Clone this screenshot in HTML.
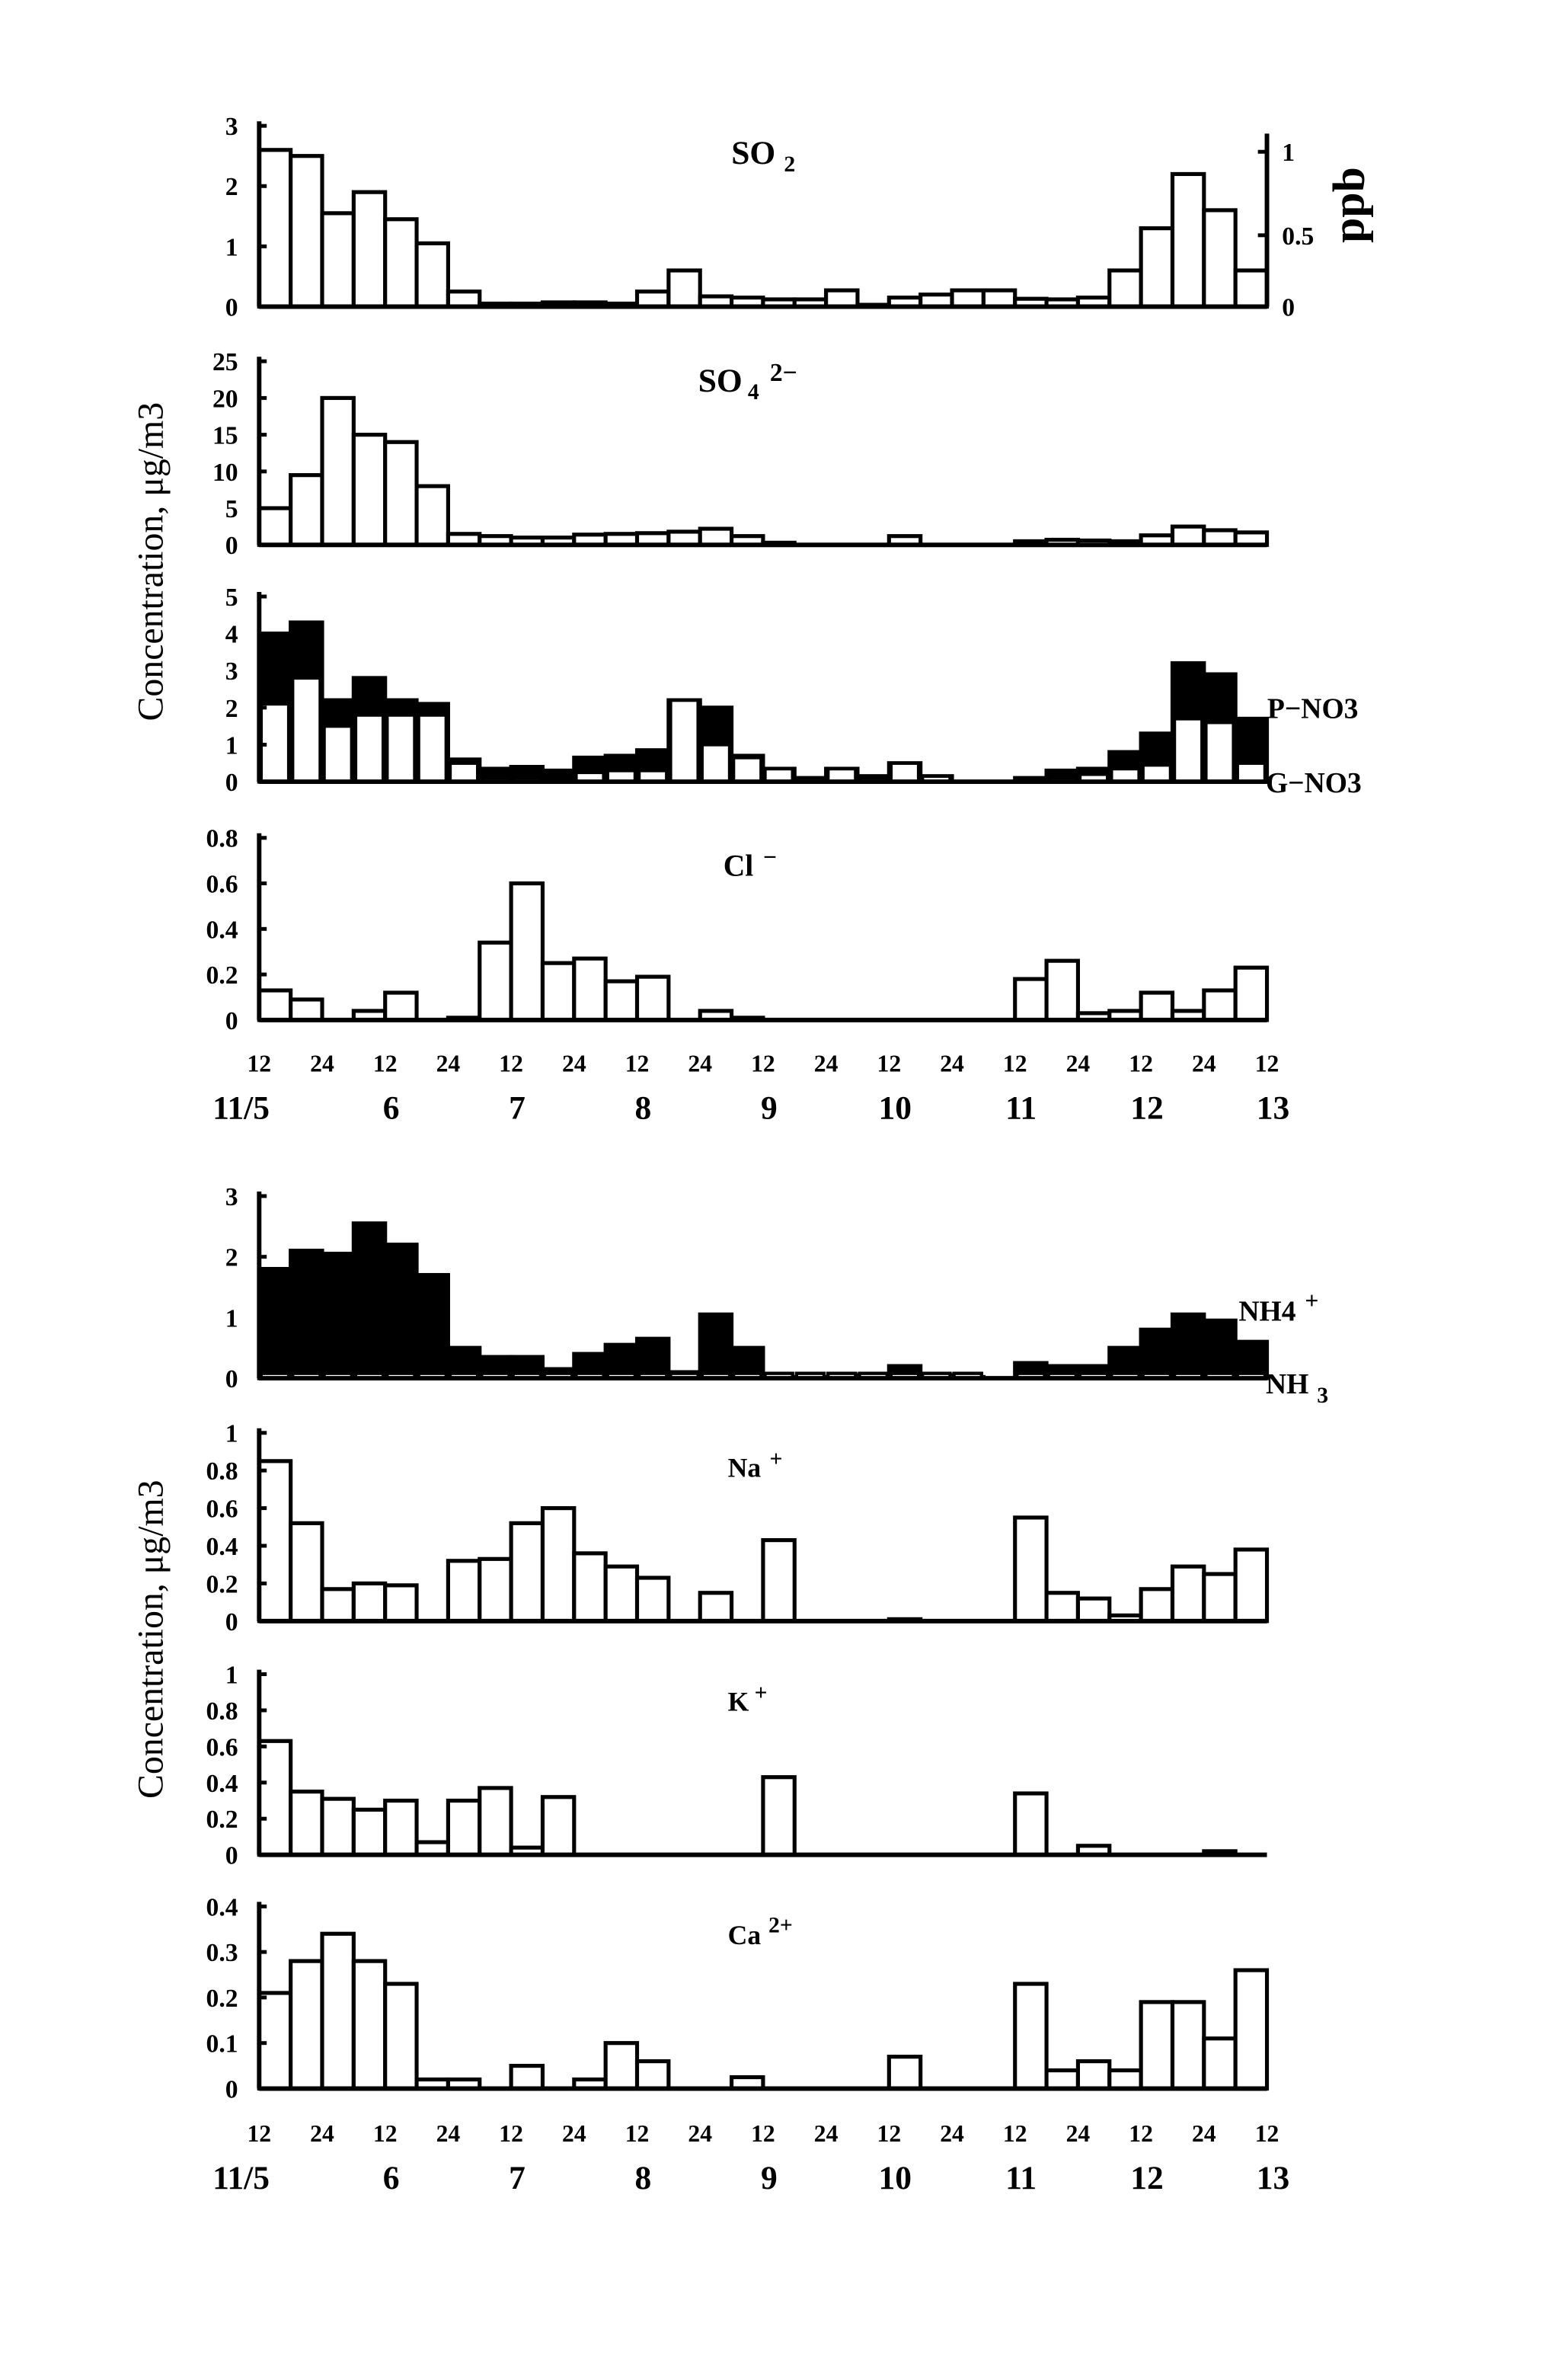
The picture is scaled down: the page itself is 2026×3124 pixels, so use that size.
<!DOCTYPE html>
<html><head><meta charset="utf-8"><style>html,body{margin:0;padding:0;background:#fff}svg{display:block}</style></head>
<body>
<svg id="s" xmlns="http://www.w3.org/2000/svg" width="2026" height="3124" viewBox="0 0 1024 1568" preserveAspectRatio="none">
<rect width="1024" height="1568" fill="#fff"/>
</svg>
<script>
const s=document.getElementById('s');const NS='http://www.w3.org/2000/svg';
function el(t,a,txt){const e=document.createElementNS(NS,t);for(const k in a)e.setAttribute(k,a[k]);if(txt!==undefined)e.textContent=txt;s.appendChild(e);return e;}
const X0=172,BW=20.9,XE=X0+32*BW;
const F='"Liberation Serif", "DejaVu Serif", serif';
function txt(x,y,t,size,anchor,extra){const a=Object.assign({x:x,y:y,'font-family':F,'font-size':size,'font-weight':'bold','text-anchor':anchor||'middle',fill:'#000'},extra||{});return el('text',a,t);}
function panel(y0,scale,ticks,vals,under,opt){
  opt=opt||{};
  for(let i=0;i<32;i++){const v=vals[i];if(!v)continue;const h=v*scale;const x=X0+i*BW;
    el('rect',{x:x,y:y0-h,width:BW,height:h,fill:opt.black?'#000':'#fff',stroke:'#000','stroke-width':2.6});
    if(under&&under[i]){const h2=under[i]*scale;el('rect',{x:x+1.3,y:y0-h2,width:BW-2.6,height:h2,fill:'#fff',stroke:'#000','stroke-width':2.2});}
  }
  const top=y0-ticks[ticks.length-1][0]*scale;
  el('line',{x1:X0,y1:top-3,x2:X0,y2:y0,stroke:'#000','stroke-width':3});
  el('line',{x1:X0,y1:y0,x2:XE,y2:y0,stroke:'#000','stroke-width':3});
  for(const [v,l] of ticks){const y=y0-v*scale;el('line',{x1:X0,y1:y,x2:X0+5,y2:y,stroke:'#000','stroke-width':2.5});txt(X0-14,y+6,l,17,'end');}
}
function xlabels(y,dy){const lab=['12','24','12','24','12','24','12','24','12','24','12','24','12','24','12','24','12'];
  lab.forEach((l,i)=>txt(X0+i*BW*2,y,l,16));
  const d=['11/5','6','7','8','9','10','11','12','13'];
  d.forEach((l,i)=>txt(X0+(i===0?-12:0)+i*BW*4+(i===0?0:4),y+dy,l,22,'middle',{'font-weight':'bold'}));
}
let so2=[2.6,2.5,1.55,1.9,1.45,1.05,0.25,0.05,0.05,0.07,0.07,0.05,0.25,0.6,0.17,0.15,0.12,0.12,0.27,0.03,0.15,0.2,0.27,0.27,0.13,0.12,0.15,0.6,1.3,2.2,1.6,0.6];
panel(202,39.7,[[0,'0'],[1,'1'],[2,'2'],[3,'3']],so2);
el('line',{x1:XE,y1:88,x2:XE,y2:202,stroke:'#000','stroke-width':3});
[[0,'0',202],[0.5,'0.5',155],[1,'1',100]].forEach(([v,l,y])=>{el('line',{x1:XE-6,y1:y,x2:XE,y2:y,stroke:'#000','stroke-width':2.5});txt(XE+10,y+6,l,17,'start');});
txt(905,135,'ppb',30,'middle',{transform:'rotate(-90 905 135)'});
txt(500,108,'SO',22);txt(524,113,'2',15);
let so4=[5,9.5,20,15,14,8,1.5,1.2,1,1,1.4,1.5,1.6,1.8,2.2,1.2,0.3,0,0,0,1.2,0,0,0,0.5,0.7,0.6,0.5,1.3,2.5,2,1.7];
panel(359,4.84,[[0,'0'],[5,'5'],[10,'10'],[15,'15'],[20,'20'],[25,'25']],so4);
txt(478,258,'SO',22);txt(500,263,'4',15);txt(520,251,'2−',17);
let not=[4,4.3,2.2,2.8,2.2,2.1,0.6,0.35,0.4,0.3,0.65,0.7,0.85,2.2,2.0,0.7,0.35,0.1,0.35,0.15,0.5,0.15,0,0,0.1,0.3,0.35,0.8,1.3,3.2,2.9,1.7];
let nog=[2.1,2.8,1.5,1.8,1.8,1.8,0.5,0.1,0.1,0.05,0.25,0.3,0.3,2.2,1.0,0.65,0.35,0.1,0.35,0.1,0.5,0.15,0,0,0,0.1,0.2,0.35,0.45,1.7,1.6,0.5];
panel(515,24.4,[[0,'0'],[1,'1'],[2,'2'],[3,'3'],[4,'4'],[5,'5']],not,nog,{black:1});
txt(841,473,'P−NO3',19,'start');txt(840,522,'G−NO3',19,'start');
let cl=[.13,.09,0,.04,.12,0,.01,.34,.6,.25,.27,.17,.19,0,.04,.01,0,0,0,0,0,0,0,0,.18,.26,.03,.04,.12,.04,.13,.23];
panel(672,150,[[0,'0'],[.2,'0.2'],[.4,'0.4'],[.6,'0.6'],[.8,'0.8']],cl);
txt(490,577,'Cl',20);txt(511,570,'−',16);
xlabels(706,31);
txt(108,370,'Concentration, μg/m3',24,'middle',{'font-weight':'normal',transform:'rotate(-90 108 370)'});
let nht=[1.8,2.1,2.05,2.55,2.2,1.7,0.5,0.35,0.35,0.15,0.4,0.55,0.65,0.1,1.05,0.5,0.02,0.02,0.02,0.05,0.2,0.05,0.02,0,0.25,0.2,0.2,0.5,0.8,1.05,0.95,0.6];
let nhg=nht.map((v,i)=>v>0?0.08:0);
panel(908,40,[[0,'0'],[1,'1'],[2,'2'],[3,'3']],nht,nhg,{black:1});
txt(822,870,'NH4',19,'start');txt(866,862,'+',16,'start');txt(840,918,'NH',19,'start');txt(874,924,'3',15,'start');
let na=[.85,.52,.17,.2,.19,0,.32,.33,.52,.6,.36,.29,.23,0,.15,0,.43,0,0,0,.01,0,0,0,.55,.15,.12,.03,.17,.29,.25,.38];
panel(1068,124,[[0,'0'],[.2,'0.2'],[.4,'0.4'],[.6,'0.6'],[.8,'0.8'],[1,'1']],na);
txt(494,973,'Na',18);txt(515,966,'+',15);
let k=[.63,.35,.31,.25,.3,.07,.3,.37,.04,.32,0,0,0,0,0,0,.43,0,0,0,0,0,0,0,.34,0,.05,0,0,0,.02,0];
panel(1222,119,[[0,'0'],[.2,'0.2'],[.4,'0.4'],[.6,'0.6'],[.8,'0.8'],[1,'1']],k);
txt(490,1127,'K',18);txt(505,1120,'+',15);
let ca=[.21,.28,.34,.28,.23,.02,.02,0,.05,0,.02,.1,.06,0,0,.025,0,0,0,0,.07,0,0,0,.23,.04,.06,.04,.19,.19,.11,.26];
panel(1376,300,[[0,'0'],[.1,'0.1'],[.2,'0.2'],[.3,'0.3'],[.4,'0.4']],ca);
txt(494,1281,'Ca',18);txt(518,1273,'2+',15);
xlabels(1411,31);
txt(108,1080,'Concentration, μg/m3',24,'middle',{'font-weight':'normal',transform:'rotate(-90 108 1080)'});
</script>
</body></html>
